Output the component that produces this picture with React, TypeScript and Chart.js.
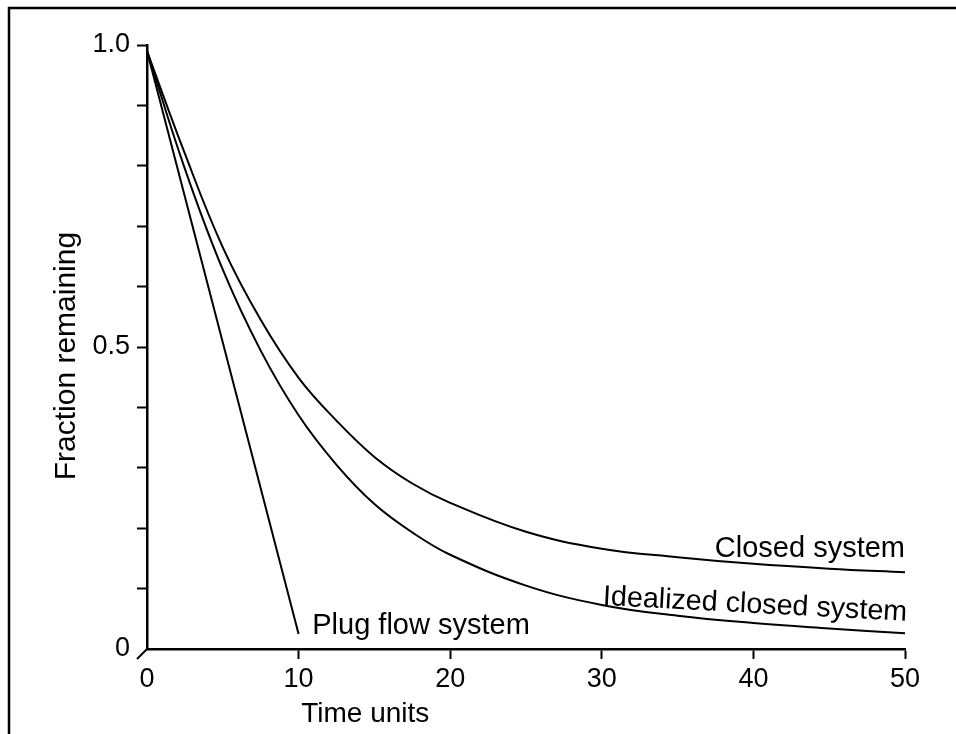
import React, { useEffect, useRef } from "react";
import { Chart, registerables } from "chart.js";

Chart.register(...registerables);

// ---- data ----
const timePoints = [0, 2.5, 5, 7.5, 10, 12.5, 15, 17.5, 20, 25, 30, 35, 40, 45, 50];
const closedSystem = [0.99, 0.82, 0.665, 0.545, 0.449, 0.378, 0.318, 0.274, 0.242, 0.194, 0.166, 0.152, 0.141, 0.133, 0.127];
const idealizedClosedSystem = [0.99, 0.795, 0.628, 0.494, 0.387, 0.305, 0.24, 0.193, 0.156, 0.105, 0.073, 0.055, 0.043, 0.034, 0.026];
const plugFlowTime = [0, 10];
const plugFlowSystem = [0.99, 0.025];

const xTickValues = [0, 10, 20, 30, 40, 50];
const yTickLabels: Record<string, string> = { "0": "0", "0.5": "0.5", "1": "1.0" };

const xTitle = "Time units";
const yTitle = "Fraction remaining";

const curveLabels = [
  { text: "Closed system", x: 50, y: 0.152, align: "right", rot: 0 },
  { text: "Idealized closed system", x: 30.05, y: 0.073, align: "left", rot: 3 },
  { text: "Plug flow system", x: 10.9, y: 0.025, align: "left", rot: 0 },
];

const FONT = '"Liberation Sans", Arial, Helvetica, sans-serif';

const decorPlugin = {
  id: "decor",
  afterDraw(chart: any) {
    const ctx = chart.ctx as CanvasRenderingContext2D;
    const xs = chart.scales.x;
    const ys = chart.scales.y;
    ctx.save();
    ctx.strokeStyle = "#000";
    ctx.fillStyle = "#000";
    // outer frame (left + top)
    ctx.lineWidth = 2.5;
    ctx.beginPath();
    ctx.moveTo(9, 734);
    ctx.lineTo(9, 8);
    ctx.lineTo(956, 8);
    ctx.stroke();
    // small diagonal at the origin
    const ox = xs.getPixelForValue(0);
    const oy = ys.getPixelForValue(0);
    ctx.lineWidth = 2;
    ctx.beginPath();
    ctx.moveTo(ox, oy);
    ctx.lineTo(ox - 10, oy + 10);
    ctx.stroke();
    // x title (placed left of centre as in the reference)
    ctx.font = `28px ${FONT}`;
    ctx.textAlign = "center";
    ctx.textBaseline = "alphabetic";
    ctx.fillText(xTitle, xs.getPixelForValue(14.4), 722);
    // y title
    ctx.save();
    ctx.translate(75, ys.getPixelForValue(0.485));
    ctx.rotate(-Math.PI / 2);
    ctx.font = `30px ${FONT}`;
    ctx.textAlign = "center";
    ctx.textBaseline = "alphabetic";
    ctx.fillText(yTitle, 0, 0);
    ctx.restore();
    // curve labels
    for (const l of curveLabels) {
      const px = xs.getPixelForValue(l.x);
      const py = ys.getPixelForValue(l.y);
      ctx.save();
      ctx.font = `${l.rot ? 28.7 : 29}px ${FONT}`;
      ctx.translate(px, py);
      ctx.rotate((l.rot * Math.PI) / 180);
      ctx.textAlign = l.align as CanvasTextAlign;
      ctx.textBaseline = "alphabetic";
      ctx.fillText(l.text, 0, 0);
      ctx.restore();
    }
    ctx.restore();
  },
};

export default function App() {
  const canvasRef = useRef<HTMLCanvasElement | null>(null);

  useEffect(() => {
    if (!canvasRef.current) return;
    const lineStyle = {
      borderColor: "#000",
      borderWidth: 2,
      pointRadius: 0,
      fill: false,
    };
    const chart = new Chart(canvasRef.current, {
      type: "line",
      data: {
        datasets: [
          {
            label: "Closed system",
            data: timePoints.map((t, i) => ({ x: t, y: closedSystem[i] })),
            tension: 0.4,
            ...lineStyle,
          },
          {
            label: "Idealized closed system",
            data: timePoints.map((t, i) => ({ x: t, y: idealizedClosedSystem[i] })),
            tension: 0.4,
            ...lineStyle,
          },
          {
            label: "Plug flow system",
            data: plugFlowTime.map((t, i) => ({ x: t, y: plugFlowSystem[i] })),
            tension: 0,
            ...lineStyle,
          },
        ],
      },
      options: {
        animation: false,
        responsive: true,
        maintainAspectRatio: false,
        layout: { padding: { left: 0, right: 51, top: 45, bottom: 0 } },
        plugins: {
          legend: { display: false },
          tooltip: { enabled: false },
        },
        scales: {
          x: {
            type: "linear",
            min: 0,
            max: 50,
            afterBuildTicks: (scale: any) => {
              scale.ticks = xTickValues.map((v) => ({ value: v }));
            },
            afterFit: (scale: any) => {
              scale.height = 85;
            },
            border: { display: true, color: "#000", width: 2.5 },
            grid: {
              drawOnChartArea: false,
              drawTicks: true,
              tickLength: 10,
              tickWidth: 2,
              tickColor: (c: any) => (c.tick && c.tick.value === 0 ? "rgba(0,0,0,0)" : "#000"),
            },
            ticks: {
              color: "#000",
              font: { family: FONT, size: 27 },
              padding: 4,
              maxRotation: 0,
              autoSkip: false,
              callback: (v: any) => String(v),
            },
          },
          y: {
            type: "linear",
            min: 0,
            max: 1,
            afterFit: (scale: any) => {
              scale.width = 147;
            },
            border: { display: true, color: "#000", width: 2.5 },
            grid: {
              drawOnChartArea: false,
              drawTicks: true,
              tickLength: 10,
              tickWidth: 2,
              tickColor: (c: any) => (c.tick && c.tick.value === 0 ? "rgba(0,0,0,0)" : "#000"),
            },
            ticks: {
              stepSize: 0.1,
              autoSkip: false,
              color: "#000",
              font: { family: FONT, size: 27 },
              padding: 7,
              callback: (v: any) => {
                const key = String(Math.round(Number(v) * 10) / 10);
                return yTickLabels[key] ?? "";
              },
            },
          },
        },
      },
      plugins: [decorPlugin],
    } as any);
    return () => chart.destroy();
  }, []);

  return (
    <div style={{ position: "absolute", left: 0, top: 0, width: 956, height: 734, background: "#fff" }}>
      <canvas ref={canvasRef} />
    </div>
  );
}
